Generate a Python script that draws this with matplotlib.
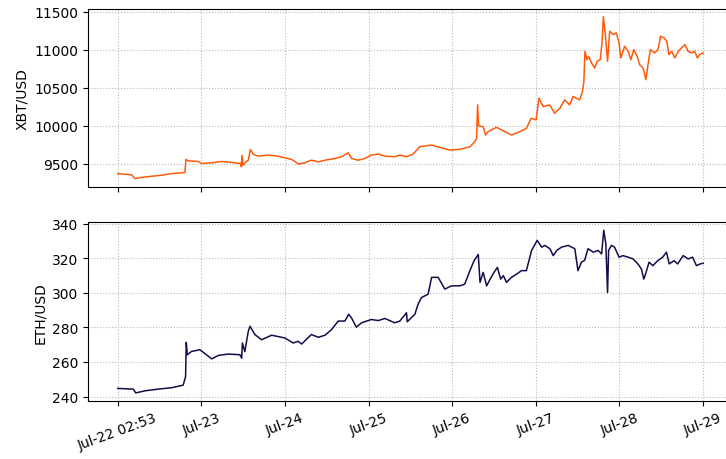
import matplotlib
matplotlib.use("Agg")
import matplotlib.pyplot as plt
import pandas as pd

# hours since 2020-07-22 02:53 and prices
start = pd.Timestamp("2020-07-22 02:53")

xbt_hours = [0.0, 4.0, 5.0, 6.4, 9.8, 12.6, 15.5, 19.3, 19.6, 20.3, 23.1, 24.1, 27.0, 29.8,
             32.7, 35.4, 35.5, 35.7, 36.0, 36.5, 37.5, 38.1, 38.9, 40.3, 43.2, 46.1, 48.0,
             49.9, 50.9, 51.8, 53.7, 55.6, 57.6, 59.5, 62.3, 64.2, 66.2, 67.1, 69.0, 70.9,
             72.8, 74.8, 76.7, 79.5, 81.0, 82.9, 84.8, 86.7, 90.1, 92.5, 95.3, 98.2, 101.1,
             102.5, 103.0, 103.3, 103.6, 104.9, 105.6, 106.3, 108.7, 110.6, 113.0, 115.4,
             117.3, 118.7, 120.1, 120.9, 122.1, 124.0, 125.4, 126.9, 128.3, 129.7, 130.7,
             132.6, 133.4, 133.8, 134.1, 134.7, 135.2, 136.0, 136.9, 137.6, 138.5, 139.0,
             139.4, 140.0, 140.6, 141.2, 142.2, 143.1, 143.9, 144.4, 145.5, 146.5, 147.3,
             148.1, 149.1, 149.8, 150.8, 151.6, 152.2, 152.9, 154.1, 155.1, 155.8, 156.8,
             157.6, 158.2, 159.0, 159.9, 160.9, 161.8, 162.8, 163.7, 164.7, 165.6, 166.4,
             167.0, 168.0]
xbt_usd = [9372, 9355, 9306, 9319, 9337, 9350, 9372, 9385, 9557, 9540, 9531, 9504, 9513, 9531,
           9518, 9504, 9460, 9610, 9480, 9513, 9548, 9689, 9628, 9601, 9615, 9601, 9579,
           9557, 9531, 9496, 9513, 9548, 9526, 9548, 9570, 9593, 9645, 9570, 9548, 9570,
           9615, 9628, 9601, 9593, 9615, 9593, 9628, 9725, 9747, 9716, 9681, 9690, 9725,
           9791, 9835, 10275, 9998, 9989, 9879, 9923, 9980, 9936, 9879, 9923,
           9967, 10099, 10077, 10363, 10253, 10275, 10165, 10231, 10341, 10275, 10385,
           10341, 10451, 10583, 10980, 10870, 10913, 10826, 10760, 10848, 10870, 11090,
           11434, 11178, 10848, 11244, 11200, 11222, 11090, 10892, 11046, 10980, 10870,
           11002, 10913, 10804, 10760, 10606, 10804, 11002, 10958, 11002, 11178, 11156,
           11112, 10936, 10980, 10892, 10980, 11024, 11068, 10980, 10958, 10980, 10892,
           10936, 10958]

eth_hours = [0.0, 4.5, 5.2, 7.8, 11.7, 15.5, 18.8, 19.5, 19.7, 20.0, 21.2, 23.6, 25.5, 27.0,
             28.9, 31.7, 35.1, 35.6, 35.8, 36.5, 37.5, 38.0, 39.4, 41.3, 44.2, 48.0, 50.4,
             51.8, 52.8, 55.6, 57.6, 59.5, 61.4, 63.3, 65.2, 66.3, 67.1, 68.5, 70.0, 72.8,
             74.8, 76.7, 79.5, 81.0, 82.9, 83.1, 85.3, 86.2, 87.2, 89.1, 90.1, 92.0, 93.9,
             95.8, 98.2, 99.6, 101.1, 102.3, 103.5, 104.0, 104.9, 105.9, 106.9, 108.0, 109.0,
             109.9, 110.7, 111.6, 113.0, 114.5, 115.9, 117.3, 118.3, 118.8, 120.4, 121.7,
             122.6, 124.1, 125.0, 126.0, 127.4, 129.3, 131.2, 132.1, 133.1, 134.0, 135.0,
             136.5, 137.9, 138.9, 139.5, 140.1, 140.6, 140.9, 141.7, 142.6, 143.9, 145.0,
             146.5, 147.9, 149.3, 150.3, 151.0, 151.5, 152.5, 153.6, 155.0, 156.4, 157.5,
             158.3, 159.7, 160.7, 162.3, 163.7, 165.0, 166.1, 167.2, 168.0]
eth_usd = [244.7, 244.3, 242.1, 243.3, 244.3, 245.1, 246.6, 251.5, 271.4, 264.2, 266.1, 267.1,
           264.2, 261.8, 263.8, 264.6, 264.2, 262.2, 271.0, 266.0, 277.8, 280.7, 275.9, 272.9,
           275.5, 273.9, 271.0, 272.0, 270.4, 275.9, 274.3, 275.5, 278.8, 283.7, 283.7, 287.6,
           285.6, 280.2, 282.7, 284.6, 284.0, 285.2, 282.7, 283.7, 288.5, 283.3, 287.6, 293.4,
           297.3, 299.3, 309.0, 309.0, 302.2,
           304.1, 304.1, 305.1, 312.9, 318.7, 322.3, 306.1, 311.9, 304.1, 308.0, 311.9, 314.8,
           308.0, 310.0, 306.1, 309.0, 310.9, 312.9, 312.9, 320.7, 324.6, 330.4, 326.5,
           327.5, 325.5, 321.6, 324.6, 326.5, 327.5, 325.6, 312.9, 317.8, 318.8, 325.6,
           323.6, 324.6, 322.6, 336.3, 328.5, 300.2, 324.6, 327.5, 326.5, 320.7, 321.6,
           320.7, 319.7, 316.8, 313.9, 308.0, 310.9, 317.8, 315.8, 318.7, 320.7, 323.6,
           316.8, 318.7, 316.8, 321.6, 319.7, 320.7, 315.8, 316.8, 317.2]

tick_labels = ["Jul-22 02:53", "Jul-23", "Jul-24", "Jul-25", "Jul-26", "Jul-27", "Jul-28", "Jul-29"]

xbt_time = start + pd.to_timedelta(xbt_hours, unit="h")
eth_time = start + pd.to_timedelta(eth_hours, unit="h")
tick_pos = [start + pd.Timedelta(days=k) for k in range(len(tick_labels))]

fig = plt.figure(figsize=(7.26, 4.6), dpi=100)
ax1 = fig.add_axes([0.1217, 0.592, 0.887, 0.387])
ax2 = fig.add_axes([0.1217, 0.126, 0.887, 0.389], sharex=ax1)

ax1.plot(xbt_time, xbt_usd, color="#ff5a0a", linewidth=1.1)
ax2.plot(eth_time, eth_usd, color="#170b4b", linewidth=1.1)

ax1.set_ylabel("XBT/USD")
ax2.set_ylabel("ETH/USD")

ax1.set_yticks([9500, 10000, 10500, 11000, 11500])
ax2.set_yticks([240, 260, 280, 300, 320, 340])

ax2.set_xticks(tick_pos)
ax2.set_xticklabels(tick_labels, rotation=20)
ax1.tick_params(labelbottom=False)

for ax in (ax1, ax2):
    ax.grid(linestyle=":", color="#b8b8b8", linewidth=0.8)

fig.savefig("out.png", dpi=100)
